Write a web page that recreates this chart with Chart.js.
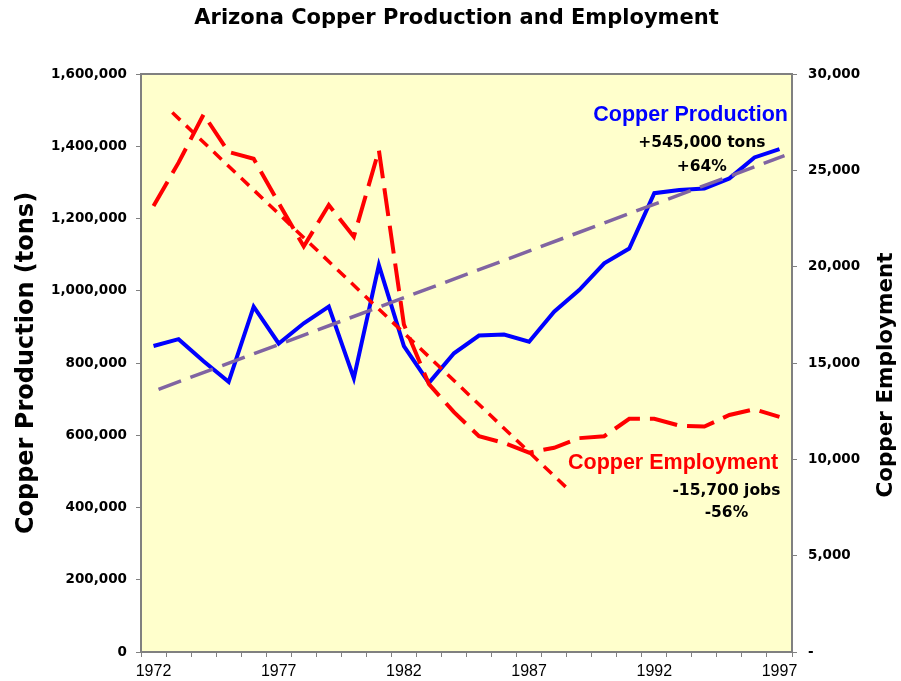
<!DOCTYPE html>
<html>
<head>
<meta charset="utf-8">
<script src="https://cdn.jsdelivr.net/npm/chart.js@4.4.1/dist/chart.umd.min.js"></script>
<style>
  html, body { margin: 0; padding: 0; background: #ffffff; }
  canvas { display: block; }
</style>
</head>
<body>
<canvas id="c" width="901" height="681"></canvas>
<script>
// ---- data ----
const years = [1972,1973,1974,1975,1976,1977,1978,1979,1980,1981,1982,1983,1984,
               1985,1986,1987,1988,1989,1990,1991,1992,1993,1994,1995,1996,1997];
const production = [847000,866000,805000,748000,956000,854000,910000,956000,758000,1071000,
                    847000,745000,827000,876000,879000,859000,942000,1002000,1076000,1117000,
                    1270000,1279000,1283000,1311000,1369000,1392000];
const employment = [23150,25400,27900,25950,25600,23300,21050,23200,21550,26050,
                    17000,13900,12450,11200,10850,10350,10600,11100,11200,12100,
                    12100,11750,11700,12300,12600,12200];
const prodTrendYears = [1972.2, 1997.2];
const prodTrend = [727000, 1374000];
const empTrendYears = [1972.75, 1988.5];
const empTrend = [28000, 8520];
const tickYears = [1972, 1977, 1982, 1987, 1992, 1997];
const leftTicks = [0,200000,400000,600000,800000,1000000,1200000,1400000,1600000];
const rightTicks = [0,5000,10000,15000,20000,25000,30000];

// annotations anchored to data coordinates
const notes = [
  {text:'Copper Production', x:1997.34, y:1470000, axis:'y', color:'#0000FF', font:'bold 21.5px "Liberation Sans", Arial, sans-serif', align:'right'},
  {text:'+545,000 tons', x:1993.9, y:1397000, axis:'y', color:'#000000', font:'bold 15.5px "DejaVu Sans", sans-serif', align:'center'},
  {text:'+64%', x:1993.9, y:1331500, axis:'y', color:'#000000', font:'bold 15.5px "DejaVu Sans", sans-serif', align:'center'},
  {text:'Copper Employment', x:1996.95, y:9480, axis:'y1', color:'#FF0000', font:'bold 21.5px "Liberation Sans", Arial, sans-serif', align:'right'},
  {text:'-15,700 jobs', x:1994.88, y:8150, axis:'y1', color:'#000000', font:'bold 15.5px "DejaVu Sans", sans-serif', align:'center'},
  {text:'-56%', x:1994.88, y:6990, axis:'y1', color:'#000000', font:'bold 15.5px "DejaVu Sans", sans-serif', align:'center'}
];

const pts = (xs, ys) => xs.map((x, i) => ({x: x, y: ys[i]}));
const fmt = v => v.toLocaleString('en-US');

const bgPlugin = {
  id: 'bg',
  beforeDraw(chart) {
    const {ctx, chartArea: a} = chart;
    ctx.save();
    ctx.fillStyle = '#ffffff';
    ctx.fillRect(0, 0, chart.width, chart.height);
    ctx.fillStyle = '#FFFFCC';
    ctx.fillRect(a.left, a.top, a.right - a.left, a.bottom - a.top);
    ctx.restore();
  },
  afterDraw(chart) {
    const {ctx, chartArea: a} = chart;
    ctx.save();
    ctx.strokeStyle = '#808080';
    ctx.lineWidth = 2;
    ctx.beginPath();
    ctx.moveTo(a.left, a.top);
    ctx.lineTo(a.right, a.top);
    ctx.stroke();
    // right axis title (reads bottom to top)
    ctx.translate(886, (a.top + a.bottom) / 2 + 12);
    ctx.rotate(-Math.PI / 2);
    ctx.fillStyle = '#000000';
    ctx.font = 'bold 21.5px "DejaVu Sans", sans-serif';
    ctx.textAlign = 'center';
    ctx.textBaseline = 'middle';
    ctx.fillText('Copper Employment', 0, 0);
    ctx.restore();
  }
};

const notesPlugin = {
  id: 'notes',
  afterDatasetsDraw(chart) {
    const ctx = chart.ctx;
    ctx.save();
    ctx.textBaseline = 'alphabetic';
    notes.forEach(n => {
      ctx.font = n.font;
      ctx.fillStyle = n.color;
      ctx.textAlign = n.align;
      ctx.fillText(n.text, chart.scales.x.getPixelForValue(n.x), chart.scales[n.axis].getPixelForValue(n.y));
    });
    ctx.restore();
  }
};

new Chart(document.getElementById('c'), {
  type: 'line',
  data: {
    datasets: [
      {label:'Production trend', data: pts(prodTrendYears, prodTrend), yAxisID:'y',
       borderColor:'#8064A2', borderWidth:3.5, borderDash:[24,10], pointRadius:0, fill:false},
      {label:'Employment trend', data: pts(empTrendYears, empTrend), yAxisID:'y1',
       borderColor:'#FF0000', borderWidth:3.5, borderDash:[11,8], pointRadius:0, fill:false},
      {label:'Copper Employment', data: pts(years, employment), yAxisID:'y1',
       borderColor:'#FF0000', borderWidth:4, borderDash:[28,10], pointRadius:0, fill:false, tension:0},
      {label:'Copper Production', data: pts(years, production), yAxisID:'y',
       borderColor:'#0000FF', borderWidth:4, pointRadius:0, fill:false, tension:0}
    ]
  },
  options: {
    responsive: false,
    animation: false,
    devicePixelRatio: 1,
    layout: { padding: { left: 12, right: 0, top: 0, bottom: 0 } },
    plugins: {
      legend: { display: false },
      tooltip: { enabled: false },
      title: {
        display: true,
        text: 'Arizona Copper Production and Employment',
        color: '#000000',
        font: { family: '"DejaVu Sans", sans-serif', size: 21, weight: 'bold' },
        padding: { top: 6, bottom: 42.8 }
      }
    },
    scales: {
      x: {
        type: 'linear',
        min: years[0] - 0.5,
        max: years[years.length - 1] + 0.5,
        afterBuildTicks: s => {
          const t = years.map(y => ({value: y - 0.5}));
          t.push({value: years[years.length - 1] + 0.5});
          tickYears.forEach(y => t.push({value: y}));
          t.sort((a, b) => a.value - b.value);
          s.ticks = t;
        },
        afterFit: s => { s.height = 29; },
        ticks: {
          autoSkip: false, maxRotation: 0, minRotation: 0, padding: 5,
          color: '#000000',
          font: { family: '"Liberation Sans", Arial, sans-serif', size: 16 },
          callback: v => tickYears.includes(v) ? String(v) : ''
        },
        grid: {
          drawOnChartArea: false, drawTicks: true, tickLength: 5,
          tickColor: c => (c.tick && tickYears.includes(c.tick.value)) ? 'rgba(0,0,0,0)' : '#808080',
          color: '#808080'
        },
        border: { display: true, color: '#808080', width: 2 }
      },
      y: {
        position: 'left',
        min: 0, max: 1600000,
        afterBuildTicks: s => { s.ticks = leftTicks.map(v => ({value: v})); },
        afterFit: s => { s.width = 129; },
        ticks: {
          padding: 9, color: '#000000',
          font: { family: '"DejaVu Sans", sans-serif', size: 13.5, weight: 'bold' },
          callback: v => fmt(v)
        },
        grid: { drawOnChartArea: false, tickLength: 5, color: '#808080' },
        border: { display: true, color: '#808080', width: 2 },
        title: {
          display: true, text: 'Copper Production (tons)', color: '#000000',
          font: { family: '"DejaVu Sans", sans-serif', size: 24, weight: 'bold' },
          padding: { top: 0, bottom: 0 }
        }
      },
      y1: {
        position: 'right',
        min: 0, max: 30000,
        afterBuildTicks: s => { s.ticks = rightTicks.map(v => ({value: v})); },
        afterFit: s => { s.width = 109; },
        ticks: {
          padding: 11, color: '#000000',
          font: { family: '"DejaVu Sans", sans-serif', size: 13.5, weight: 'bold' },
          callback: v => v === 0 ? '-' : fmt(v)
        },
        grid: { drawOnChartArea: false, tickLength: 5, color: '#808080' },
        border: { display: true, color: '#808080', width: 2 }
      }
    }
  },
  plugins: [bgPlugin, notesPlugin]
});
</script>
</body>
</html>
